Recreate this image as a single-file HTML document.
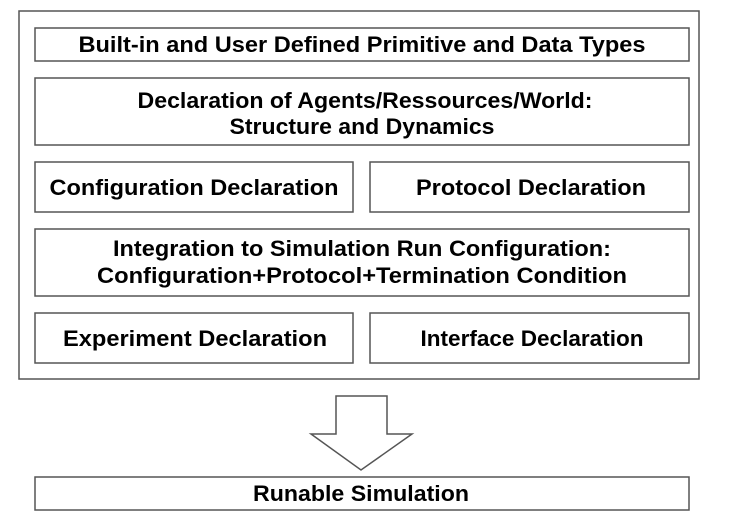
<!DOCTYPE html>
<html><head><style>
html,body{margin:0;padding:0;background:#fff;}
svg{display:block;}
text{font-family:"Liberation Sans",Arial,sans-serif;font-weight:bold;font-size:22px;fill:#000;text-anchor:middle;}
</style></head><body>
<svg width="744" height="520" viewBox="0 0 744 520" xmlns="http://www.w3.org/2000/svg">
<g fill="#fff" stroke="#555" stroke-width="1.5">
<rect x="19" y="11" width="680" height="368"/>
<rect x="35" y="28" width="654" height="33"/>
<rect x="35" y="78" width="654" height="67"/>
<rect x="35" y="162" width="318" height="50"/>
<rect x="370" y="162" width="319" height="50"/>
<rect x="35" y="229" width="654" height="67"/>
<rect x="35" y="313" width="318" height="50"/>
<rect x="370" y="313" width="319" height="50"/>
<polygon points="336,396 387,396 387,434 412,434 361,470 311,434 336,434"/>
<rect x="35" y="477" width="654" height="33"/>
</g>
<text x="362" y="52" textLength="567" lengthAdjust="spacingAndGlyphs">Built-in and User Defined Primitive and Data Types</text>
<text x="365" y="108" textLength="455" lengthAdjust="spacingAndGlyphs">Declaration of Agents/Ressources/World:</text>
<text x="362" y="134" textLength="265" lengthAdjust="spacingAndGlyphs">Structure and Dynamics</text>
<text x="194" y="195" textLength="289" lengthAdjust="spacingAndGlyphs">Configuration Declaration</text>
<text x="531" y="195" textLength="230" lengthAdjust="spacingAndGlyphs">Protocol Declaration</text>
<text x="362" y="256" textLength="498" lengthAdjust="spacingAndGlyphs">Integration to Simulation Run Configuration:</text>
<text x="362" y="283" textLength="530" lengthAdjust="spacingAndGlyphs">Configuration+Protocol+Termination Condition</text>
<text x="195" y="346" textLength="264" lengthAdjust="spacingAndGlyphs">Experiment Declaration</text>
<text x="532" y="346" textLength="223" lengthAdjust="spacingAndGlyphs">Interface Declaration</text>
<text x="361" y="501" textLength="216" lengthAdjust="spacingAndGlyphs">Runable Simulation</text>
</svg>
</body></html>
